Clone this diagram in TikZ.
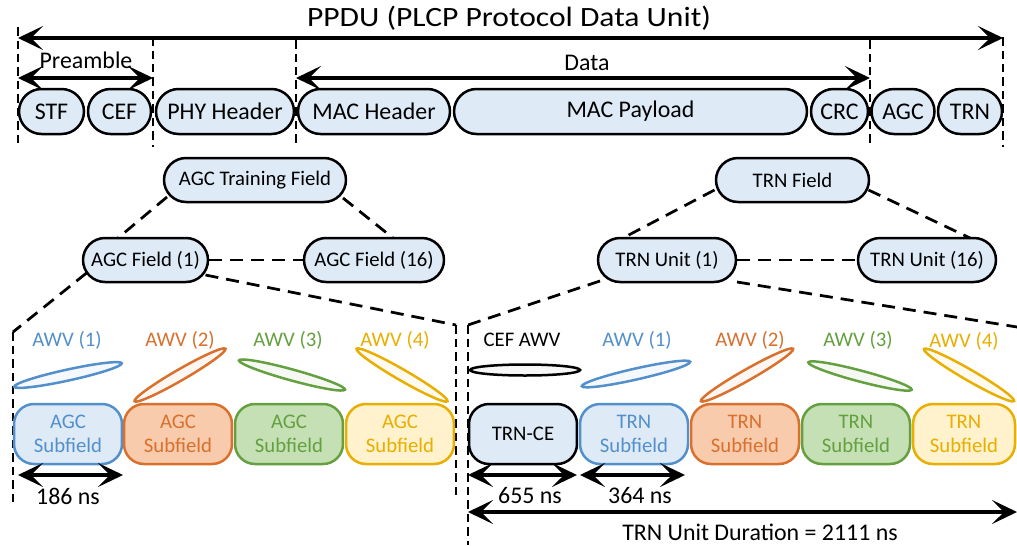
\documentclass[tikz,border=0pt]{standalone}
\usepackage{fontspec}
\setmainfont{Carlito}
\usetikzlibrary{arrows.meta,shapes.geometric,calc}
\newcommand\fszA{\fontsize{13.6pt}{16pt}\selectfont}
\newcommand\fszB{\fontsize{11.8pt}{13.6pt}\selectfont}
\newcommand\fszT{\fontsize{15.9pt}{19pt}\selectfont}
\definecolor{fbl}{HTML}{DEEBF7}
\definecolor{for}{HTML}{F8CBAD}
\definecolor{fgr}{HTML}{C5E0B4}
\definecolor{fye}{HTML}{FFF2CC}
\definecolor{cbl}{HTML}{5390CB}
\definecolor{cor}{HTML}{D9702C}
\definecolor{cgr}{HTML}{64A03F}
\definecolor{cye}{HTML}{E8AE00}
\tikzset{
  St/.tip={Stealth[length=5mm,width=4.8mm,inset=2.4mm]},
  dimarrow/.style={line width=0.65mm,St-St},
  topbox/.style={draw=black,line width=0.5mm,fill=fbl,rounded corners=4.5mm,minimum height=9mm,inner sep=0pt,font=\fszA},
  pill/.style={draw=black,line width=0.5mm,fill=fbl,rounded corners=4.4mm,minimum height=8.8mm,inner sep=0pt,font=\fszB},
  subbox/.style={draw,line width=0.5mm,rounded corners=4mm,minimum width=21.6mm,minimum height=12mm,inner sep=0pt,align=center,font=\fszB},
  awv/.style={ellipse,draw,line width=0.5mm,inner sep=0pt,minimum height=2.2mm},
  vdash/.style={line width=0.55mm,dash pattern=on 1.7mm off 1mm},
  tdash/.style={line width=0.55mm,dash pattern=on 2.6mm off 1.6mm},
  lbl/.style={inner sep=0pt,font=\fszA},
  awvlbl/.style={inner sep=0pt,font=\fszB}
}
\begin{document}
\begin{tikzpicture}[x=0.02cm,y=-0.02cm]
\useasboundingbox (0,0) rectangle (1017,545);
% ---------- top row ----------
\node[inner sep=0pt,font=\fszT] (title) at (509,18) {\scalebox{1.13}[1]{PPDU (PLCP Protocol Data Unit)}};
\node[topbox,minimum width=13mm] (stf) at (51.5,111.5) {STF};
\node[topbox,minimum width=12.6mm] (cef) at (119.5,111.5) {CEF};
\node[topbox,minimum width=27.6mm] (phy) at (225,111.5) {PHY Header};
\node[topbox,minimum width=30.4mm] (mach) at (374,111.5) {MAC Header};
\node[topbox,minimum width=70.6mm] (macp) at (630.5,111.5) {MAC Payload};
\node[topbox,minimum width=11.4mm] (crc) at (839.5,111.5) {CRC};
\node[topbox,minimum width=12.6mm] (agc) at (903,111.5) {AGC};
\node[topbox,minimum width=12.8mm] (trn) at (970,111.5) {TRN};
% dashed separators
\coordinate (v1a) at (18,27);   \coordinate (v1b) at (18,147);
\coordinate (v2a) at (153,37);  \coordinate (v2b) at (153,147);
\coordinate (v3a) at (296,40);  \coordinate (v3b) at (296,147);
\coordinate (v4a) at (870,40);  \coordinate (v4b) at (870,147);
\coordinate (v5a) at (1003,37); \coordinate (v5b) at (1003,147);
\foreach \i in {1,...,5} {\draw[vdash] (v\i a) -- (v\i b);}
% arrows
\coordinate (p1) at (18,38);  \coordinate (p2) at (1003,38);
\draw[dimarrow,line width=0.75mm] (p1) -- (p2);
\coordinate (a1) at (18,78);  \coordinate (a2) at (153,78);
\draw[dimarrow] (a1) -- (a2);
\node[lbl] (pre) at (86,60) {Preamble};
\coordinate (d1) at (296,78); \coordinate (d2) at (870,78);
\draw[dimarrow] (d1) -- (d2);
\node[lbl] (data) at (587,63) {Data};
% ---------- second level ----------
\node[pill,minimum width=36.4mm] (agctf) at (255,180) {AGC Training Field};
\node[pill,minimum width=25mm] (agcf1) at (145.5,260) {AGC Field (1)};
\node[pill,minimum width=28mm] (agcf16) at (374,260) {AGC Field (16)};
\node[pill,minimum width=30.6mm] (trnf) at (792.5,180) {TRN Field};
\node[pill,minimum width=27.6mm] (trnu1) at (667,260) {TRN Unit (1)};
\node[pill,minimum width=27.6mm] (trnu16) at (927,260) {TRN Unit (16)};
\draw[tdash] ($(agctf)+(-88,17)$) -- ($(agcf1)+(-27.5,-22)$);
\draw[tdash] ($(agctf)+(88,18)$) -- ($(agcf16)+(19,-22)$);
\draw[tdash] (agcf1.east) -- (agcf16.west);
\draw[tdash] ($(trnf)+(-78,10)$) -- ($(trnu1)+(-44,-22)$);
\draw[tdash] ($(trnf)+(76,10)$) -- ($(trnu16)+(43,-22)$);
\draw[tdash] (trnu1.east) -- (trnu16.west);
\coordinate (cL1) at (13,332);  \coordinate (cL2) at (13,503);
\coordinate (cR1) at (456,325); \coordinate (cR2) at (456,500);
\coordinate (tL1) at (468,325); \coordinate (tL2) at (468,545);
\coordinate (tR1) at (1017,327);
\draw[tdash] ($(agcf1)+(-59,13)$) -- (cL1);
\draw[vdash] (cL1) -- (cL2);
\draw[tdash] ($(agcf1)+(60,15)$) -- (cR1);
\draw[vdash] (cR1) -- (cR2);
\draw[tdash] ($(trnu1)+(-67,21)$) -- (tL1);
\draw[vdash] (tL1) -- (tL2);
\draw[tdash] ($(trnu1)+(70,22)$) -- (tR1);
% ---------- AGC subfields ----------
\node[awvlbl,text=cbl] (la1) at (67,340) {AWV (1)};
\node[awvlbl,text=cor] (la2) at (180,340) {AWV (2)};
\node[awvlbl,text=cgr] (la3) at (288,340) {AWV (3)};
\node[awvlbl,text=cye] (la4) at (395,340) {AWV (4)};
\node[awv,draw=cbl,fill=cbl!6,minimum width=22mm,rotate=12.3] (ea1) at (68,375) {};
\node[awv,draw=cor,fill=cor!6,minimum width=21mm,rotate=30] (ea2) at (180,375) {};
\node[awv,draw=cgr,fill=cgr!6,minimum width=22mm,rotate=-15.4] (ea3) at (292,375) {};
\node[awv,draw=cye,fill=cye!6,minimum width=21mm,rotate=-30] (ea4) at (402,375) {};
\node[subbox,draw=cbl,fill=fbl,text=cbl] (as1) at (68,434) {AGC\\Subfield};
\node[subbox,draw=cor,fill=for,text=cor] (as2) at (178,434) {AGC\\Subfield};
\node[subbox,draw=cgr,fill=fgr,text=cgr] (as3) at (289,434) {AGC\\Subfield};
\node[subbox,draw=cye,fill=fye,text=cye] (as4) at (400,434) {AGC\\Subfield};
\coordinate (b1) at (18,475); \coordinate (b2) at (123,475);
\draw[dimarrow] (b1) -- (b2);
\node[lbl] (l186) at (68,496) {186 ns};
% ---------- TRN subfields ----------
\node[awvlbl] (lce) at (522,340) {CEF AWV};
\node[awvlbl,text=cbl] (lt1) at (637,340) {AWV (1)};
\node[awvlbl,text=cor] (lt2) at (750,340) {AWV (2)};
\node[awvlbl,text=cgr] (lt3) at (858,340) {AWV (3)};
\node[awvlbl,text=cye] (lt4) at (964,341) {AWV (4)};
\node[awv,draw=black,fill=black!3,minimum width=22mm] (ece) at (525,370) {};
\node[awv,draw=cbl,fill=cbl!6,minimum width=22.2mm,rotate=12.7] (et1) at (636,374) {};
\node[awv,draw=cor,fill=cor!6,minimum width=21.2mm,rotate=29.6] (et2) at (747,375) {};
\node[awv,draw=cgr,fill=cgr!6,minimum width=21.4mm,rotate=-14.8] (et3) at (860,376) {};
\node[awv,draw=cye,fill=cye!6,minimum width=20.8mm,rotate=-30] (et4) at (969,375) {};
\node[subbox,draw=black,fill=fbl] (tce) at (523,434) {TRN-CE};
\node[subbox,draw=cbl,fill=fbl,text=cbl] (ts1) at (634,434) {TRN\\Subfield};
\node[subbox,draw=cor,fill=for,text=cor] (ts2) at (745,434) {TRN\\Subfield};
\node[subbox,draw=cgr,fill=fgr,text=cgr] (ts3) at (856,434) {TRN\\Subfield};
\node[subbox,draw=cye,fill=fye,text=cye,minimum width=20.4mm] (ts4) at (964,434) {TRN\\Subfield};
\coordinate (c1) at (468,475); \coordinate (c2) at (577,475);
\draw[dimarrow] (c1) -- (c2);
\coordinate (e1) at (580,475); \coordinate (e2) at (685,475);
\draw[dimarrow] (e1) -- (e2);
\coordinate (f1) at (468,512); \coordinate (f2) at (1017,512);
\draw[dimarrow] (f1) -- (f2);
\node[lbl] (l655) at (530,496) {655 ns};
\node[lbl] (l364) at (640,496) {364 ns};
\node[lbl] (ldur) at (760,532) {TRN Unit Duration = 2111 ns};
\end{tikzpicture}
\end{document}
